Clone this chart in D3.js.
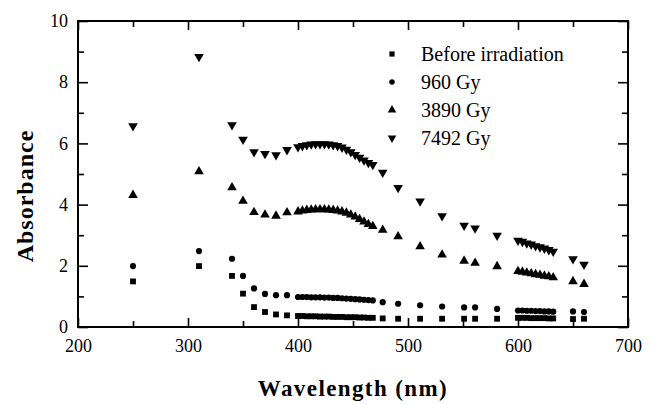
<!DOCTYPE html>
<html><head><meta charset="utf-8">
<script src="https://cdn.jsdelivr.net/npm/d3@7"></script>
<style>
html,body{margin:0;padding:0;background:#fff;}
svg{display:block;}
text{font-family:"Liberation Serif","Times New Roman",serif;fill:#000;}
</style></head>
<body>
<svg id="chart" width="650" height="404"></svg>
<script>
// ---- data ----
const wavelengths = [250,310,340,350,360,370,380,390,
  400,404,408,412,416,420,424,428,432,436,440,444,448,452,456,460,464,468,
  477,491,511,531,551,561,581,
  600,604,608,612,616,620,624,628,632,
  650,660];
const beforeIrradiation = [1.49,1.99,1.67,1.09,0.65,0.49,0.41,0.38,
  0.36,0.36,0.35,0.35,0.35,0.34,0.34,0.34,0.33,0.33,0.33,0.32,0.32,0.32,0.31,0.31,0.30,0.30,
  0.28,0.27,0.27,0.27,0.27,0.27,0.27,
  0.30,0.30,0.30,0.29,0.29,0.29,0.29,0.28,0.28,
  0.26,0.27];
const gy960 = [1.99,2.48,2.23,1.67,1.26,1.08,1.04,1.04,
  0.98,0.98,0.98,0.97,0.97,0.97,0.96,0.96,0.95,0.95,0.94,0.93,0.92,0.91,0.90,0.89,0.88,0.87,
  0.81,0.76,0.71,0.67,0.64,0.64,0.59,
  0.54,0.54,0.53,0.53,0.52,0.52,0.51,0.51,0.50,
  0.51,0.49];
const gy3890 = [4.31,5.08,4.56,4.12,3.75,3.67,3.63,3.74,
  3.77,3.80,3.82,3.83,3.84,3.84,3.84,3.83,3.82,3.80,3.77,3.73,3.67,3.60,3.52,3.44,3.36,3.29,
  3.17,2.96,2.63,2.36,2.16,2.09,1.98,
  1.82,1.80,1.77,1.75,1.72,1.70,1.67,1.65,1.62,
  1.49,1.40];
const gy7492 = [6.57,8.83,6.60,6.13,5.72,5.66,5.62,5.79,
  5.88,5.92,5.95,5.97,5.98,5.98,5.98,5.97,5.95,5.92,5.87,5.80,5.72,5.63,5.54,5.45,5.37,5.30,
  5.05,4.55,4.11,3.63,3.32,3.23,2.99,
  2.83,2.79,2.74,2.70,2.65,2.61,2.57,2.52,2.47,
  2.22,2.04];
const seriesNames = ["Before irradiation","960 Gy","3890 Gy","7492 Gy"];
const seriesValues = [beforeIrradiation, gy960, gy3890, gy7492];
const xTicks = [200,300,400,500,600,700];
const xMinorTicks = [250,350,450,550,650];
const yTicks = [0,2,4,6,8,10];
const yMinorTicks = [1,3,5,7,9];

// ---- layout ----
const svg = d3.select("#chart");
const L = 78, R = 628, T = 21, B = 327;
const x = d3.scaleLinear().domain([200,700]).range([L,R]);
const y = d3.scaleLinear().domain([0,10]).range([B,T]);

const symbolTypes = [d3.symbolSquare, d3.symbolCircle, d3.symbolTriangle, d3.symbolTriangle];
const symbolSizes = [34, 30, 40, 40];
const symbolRot = [0,0,0,180];

function styleAxis(g){
  g.select(".domain").remove();
  g.selectAll("line").attr("stroke","#000").attr("stroke-width",1.6);
  g.selectAll("text").style("font-size","18px").attr("fill","#000");
}

// bottom
svg.append("g").attr("transform",`translate(0,${B})`)
  .call(d3.axisBottom(x).tickValues(xTicks).tickSizeInner(-9).tickSizeOuter(0).tickPadding(12).tickFormat(d3.format("d")))
  .call(styleAxis);
svg.append("g").attr("transform",`translate(0,${B})`)
  .call(d3.axisBottom(x).tickValues(xMinorTicks).tickSizeInner(-6).tickSizeOuter(0).tickFormat(""))
  .call(styleAxis);
// top
svg.append("g").attr("transform",`translate(0,${T})`)
  .call(d3.axisTop(x).tickValues(xTicks).tickSizeInner(-9).tickSizeOuter(0).tickFormat(""))
  .call(styleAxis);
svg.append("g").attr("transform",`translate(0,${T})`)
  .call(d3.axisTop(x).tickValues(xMinorTicks).tickSizeInner(-6).tickSizeOuter(0).tickFormat(""))
  .call(styleAxis);
// left
svg.append("g").attr("transform",`translate(${L},0)`)
  .call(d3.axisLeft(y).tickValues(yTicks).tickSizeInner(-10).tickSizeOuter(0).tickPadding(10).tickFormat(d3.format("d")))
  .call(styleAxis);
svg.append("g").attr("transform",`translate(${L},0)`)
  .call(d3.axisLeft(y).tickValues(yMinorTicks).tickSizeInner(-6).tickSizeOuter(0).tickFormat(""))
  .call(styleAxis);
// right
svg.append("g").attr("transform",`translate(${R},0)`)
  .call(d3.axisRight(y).tickValues(yTicks).tickSizeInner(-10).tickSizeOuter(0).tickFormat(""))
  .call(styleAxis);
svg.append("g").attr("transform",`translate(${R},0)`)
  .call(d3.axisRight(y).tickValues(yMinorTicks).tickSizeInner(-6).tickSizeOuter(0).tickFormat(""))
  .call(styleAxis);

// frame
svg.append("rect").attr("x",L).attr("y",T).attr("width",R-L).attr("height",B-T)
  .attr("fill","none").attr("stroke","#000").attr("stroke-width",2);

// points
seriesValues.forEach((vals,si)=>{
  const sym = d3.symbol().type(symbolTypes[si]).size(symbolSizes[si]);
  svg.append("g").selectAll("path").data(wavelengths.map((w,i)=>[w,vals[i]]))
    .join("path")
    .attr("d",sym)
    .attr("transform",d=>`translate(${x(d[0])},${y(d[1])}) rotate(${symbolRot[si]})`)
    .attr("fill","#000");
});

// legend
const legY = [54, 82, 110, 138];
seriesNames.forEach((name,si)=>{
  const sym = d3.symbol().type(symbolTypes[si]).size(symbolSizes[si]*0.8);
  svg.append("path").attr("d",sym)
    .attr("transform",`translate(392,${legY[si]}) rotate(${symbolRot[si]})`).attr("fill","#000");
  svg.append("text").attr("x",421).attr("y",legY[si]).attr("dy","0.35em")
    .style("font-size","20px").text(name);
});

// axis titles
svg.append("text").attr("x",(L+R)/2).attr("y",396).attr("text-anchor","middle")
  .style("font-size","23px").style("font-weight","bold").style("letter-spacing","1.4px")
  .text("Wavelength (nm)");
svg.append("text").attr("transform","translate(33,196) rotate(-90)").attr("text-anchor","middle")
  .style("font-size","24px").style("font-weight","bold").style("letter-spacing","1px")
  .text("Absorbance");
</script>
</body></html>
